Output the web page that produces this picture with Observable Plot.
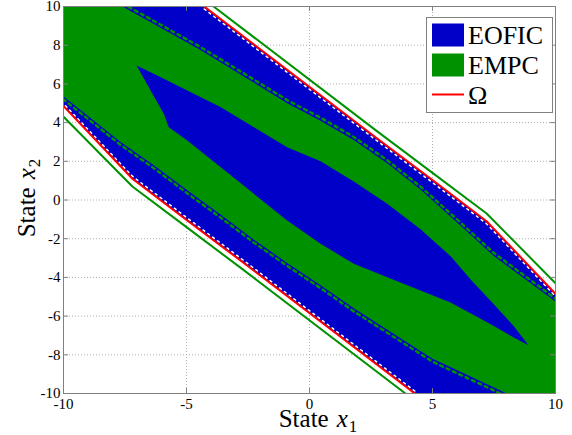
<!DOCTYPE html>
<html>
<head>
<meta charset="utf-8">
<script src="https://cdn.jsdelivr.net/npm/d3@7"></script>
<script src="https://cdn.jsdelivr.net/npm/@observablehq/plot@0.6"></script>
<style>
  html, body { margin: 0; padding: 0; background: #fff; }
  #chart { position: relative; width: 572px; height: 435px; }
</style>
</head>
<body>
<div id="chart"></div>
<script>
// ---- data ----
const xTicks = [-10, -5, 0, 5, 10];
const yTicks = [-10, -8, -6, -4, -2, 0, 2, 4, 6, 8, 10];

// Omega boundary (red)
const omegaUpper = [[-4.28, 10], [2.7, 3.23], [5.0, 1.03], [7.2, -1.1], [10, -4.85]];
const omegaLower = [[4.28, -10], [-2.7, -3.23], [-5.0, -1.03], [-7.2, 1.1], [-10, 4.85]];

// outer EMPC boundary (green outline)
const empcOuterUpper = [[-3.9, 10], [2.7, 3.6], [5.0, 1.4], [7.2, -0.7], [10, -4.3]];
const empcOuterLower = [[3.9, -10], [-2.7, -3.6], [-5.0, -1.4], [-7.2, 0.7], [-10, 4.3]];

// EOFIC / EMPC interface (upper and lower)
const interfaceUpper = [[-7.6, 10], [-4.5, 7.8], [-2.3, 6.1], [-0.9, 5.0], [0.45, 4.1], [1.8, 3.1],
  [3.16, 1.9], [4.5, 0.55], [5.73, -0.85], [7.5, -2.9], [10, -5.25]];
const interfaceLower = [[8.0, -10], [7.76, -9.85], [5.0, -8.2], [2.89, -6.49], [1.8, -5.6], [0.45, -4.4],
  [-0.91, -3.25], [-2.26, -2.05], [-3.62, -0.75], [-4.97, 0.5], [-6.33, 1.8], [-7.68, 3.0], [-10, 5.35]];

// central EOFIC lens
const lensUpper = [[-7.03, 6.95], [-6.19, 6.43], [-4.97, 5.66], [-3.62, 4.8], [-2.26, 3.76], [-0.91, 2.73],
  [0.45, 2.0], [1.8, 0.95], [3.16, -0.2], [4.5, -1.5], [5.73, -2.9], [6.54, -4.1], [7.5, -5.4], [8.29, -6.5], [8.9, -7.5]];
const lensLower = [[-7.03, 6.95], [-6.46, 5.66], [-5.92, 4.45], [-5.72, 3.76], [-4.97, 3.07], [-3.62, 1.7],
  [-2.26, 0.32], [-0.91, -1.06], [0.45, -2.26], [1.8, -3.3], [3.16, -3.99], [4.51, -4.68], [5.73, -5.3],
  [7.2, -6.3], [8.3, -7.1], [8.9, -7.5]];

const corners = { topLeft: [-10, 10], bottomRight: [10, -10] };

// ---- styles ----
const BLUE = "#0000c8";
const GREEN = "#009100";
const RED = "#ff0000";
const AXIS = "#808080";
const FONT = "Liberation Serif, DejaVu Serif, serif";

// polygons built from the arrays
const eoficBand = [...omegaUpper, corners.bottomRight, ...omegaLower, corners.topLeft];
const empcBand = [...interfaceUpper, corners.bottomRight, ...interfaceLower, corners.topLeft];
const lens = [...lensUpper, ...lensLower.slice().reverse()];

const X = d => d[0], Y = d => d[1];
const fmt = d => String(d);

const svg = Plot.plot({
  width: 572,
  height: 435,
  marginLeft: 63,
  marginRight: 17,
  marginTop: 6,
  marginBottom: 42,
  x: { domain: [-10, 10] },
  y: { domain: [-10, 10] },
  style: { fontFamily: FONT, fontSize: "15px", color: "#000", background: "#fff", overflow: "visible" },
  marks: [
    Plot.gridX(xTicks, { stroke: "#b0b0b0", strokeOpacity: 1, strokeDasharray: "1,2" }),
    Plot.gridY(yTicks, { stroke: "#b0b0b0", strokeOpacity: 1, strokeDasharray: "1,2" }),
    Plot.line(eoficBand, { x: X, y: Y, fill: BLUE, stroke: "none" }),
    Plot.line(empcBand, { x: X, y: Y, fill: GREEN, stroke: "none" }),
    Plot.line(lens, { x: X, y: Y, fill: BLUE, stroke: "none" }),
    // jagged interface dashes
    Plot.line(interfaceUpper, { x: X, y: Y, stroke: GREEN, strokeWidth: 2.5, strokeDasharray: "3,4", dy: -3, clip: true }),
    Plot.line(interfaceLower, { x: X, y: Y, stroke: GREEN, strokeWidth: 2.5, strokeDasharray: "3,4", dy: 3, clip: true }),
    // white specks inside Omega
    Plot.line(omegaUpper, { x: X, y: Y, stroke: "#fff", strokeWidth: 1.5, strokeDasharray: "2,4", dy: 2.5, clip: true }),
    Plot.line(omegaLower, { x: X, y: Y, stroke: "#fff", strokeWidth: 1.5, strokeDasharray: "2,4", dy: -2.5, clip: true }),
    // Omega boundary
    Plot.line(omegaUpper, { x: X, y: Y, stroke: RED, strokeWidth: 2, clip: true }),
    Plot.line(omegaLower, { x: X, y: Y, stroke: RED, strokeWidth: 2, clip: true }),
    // EMPC outer boundary
    Plot.line(empcOuterUpper, { x: X, y: Y, stroke: GREEN, strokeWidth: 2, clip: true }),
    Plot.line(empcOuterLower, { x: X, y: Y, stroke: GREEN, strokeWidth: 2, clip: true }),
    Plot.frame({ stroke: AXIS }),
    Plot.ruleX(xTicks, { x: d => d, y1: -10, y2: -9.75, stroke: AXIS }),
    Plot.ruleX(xTicks, { x: d => d, y1: 9.75, y2: 10, stroke: AXIS }),
    Plot.ruleY(yTicks, { y: d => d, x1: -10, x2: -9.8, stroke: AXIS }),
    Plot.ruleY(yTicks, { y: d => d, x1: 9.8, x2: 10, stroke: AXIS }),
    Plot.axisX(xTicks, { tickSize: 0, tickPadding: 5, label: null, tickFormat: fmt, fontSize: 15 }),
    Plot.axisY(yTicks, { tickSize: 0, tickPadding: 3, label: null, tickFormat: fmt, fontSize: 15 })
  ]
});

document.getElementById("chart").appendChild(svg);

const s = d3.select(svg);

// axis labels
const xl = s.append("text").attr("x", 318).attr("y", 427).attr("text-anchor", "middle")
  .attr("font-size", 25).attr("fill", "#000");
xl.append("tspan").text("State");
xl.append("tspan").attr("font-style", "italic").attr("dx", 8).text("x");
xl.append("tspan").attr("font-size", 17).attr("dx", 1).attr("dy", 5).text("1");

const yl = s.append("text").attr("transform", "translate(35,198) rotate(-90)").attr("text-anchor", "middle")
  .attr("font-size", 25).attr("fill", "#000");
yl.append("tspan").text("State");
yl.append("tspan").attr("font-style", "italic").attr("dx", 8).text("x");
yl.append("tspan").attr("font-size", 17).attr("dx", 1).attr("dy", 5).text("2");

// legend
const legendItems = [
  { label: "EOFIC", kind: "rect", color: BLUE },
  { label: "EMPC", kind: "rect", color: GREEN },
  { label: "Ω", kind: "line", color: RED }
];
const lg = s.append("g");
lg.append("rect").attr("x", 426.5).attr("y", 17.5).attr("width", 126).attr("height", 95)
  .attr("fill", "#fff").attr("stroke", AXIS);
legendItems.forEach((it, i) => {
  const cy = 35 + i * 30;
  if (it.kind === "rect") {
    lg.append("rect").attr("x", 432).attr("y", cy - 11.5).attr("width", 32).attr("height", 23).attr("fill", it.color);
  } else {
    lg.append("line").attr("x1", 432).attr("x2", 464).attr("y1", cy - 0.5).attr("y2", cy - 0.5)
      .attr("stroke", it.color).attr("stroke-width", 2);
  }
  lg.append("text").attr("x", 468).attr("y", cy + 8.5).attr("text-anchor", "start")
    .attr("font-size", 26).attr("fill", "#000").text(it.label);
});

// force the serif face on every text of the chart
s.selectAll("text").style("font-family", FONT);
</script>
</body>
</html>
